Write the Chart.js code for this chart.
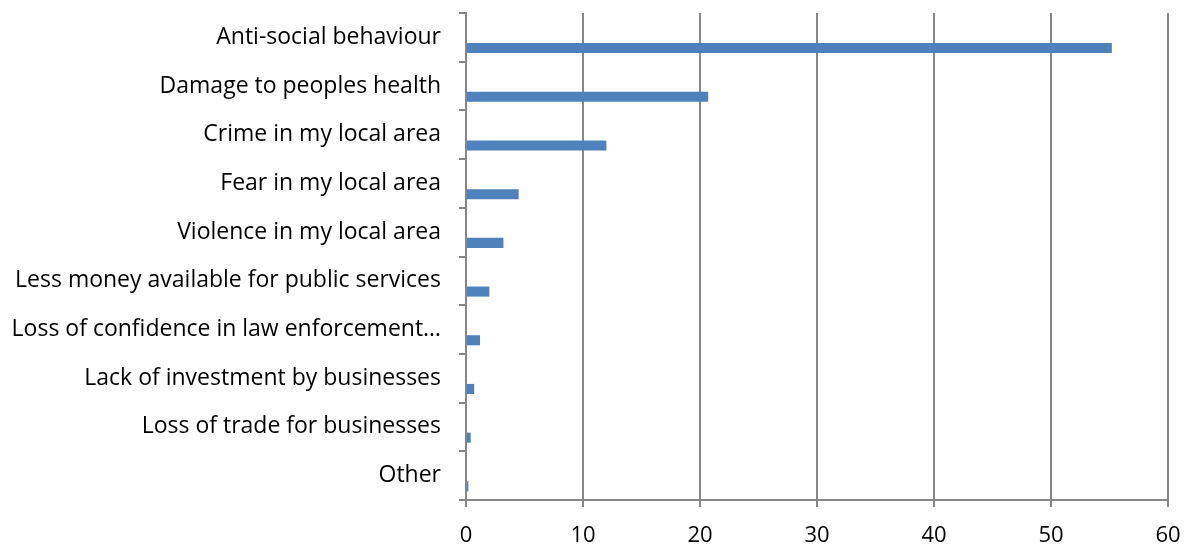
<!DOCTYPE html>
<html>
<head>
<meta charset="utf-8">
<script src="https://cdn.jsdelivr.net/npm/chart.js@4"></script>
<style>
  body { margin: 0; background: #fff; }
  #wrap { width: 1195px; height: 546px; }
</style>
</head>
<body>
<div id="wrap"><canvas id="c"></canvas></div>
<script>
// categories, top to bottom
var categories = [
  'Anti-social behaviour',
  'Damage to peoples health',
  'Crime in my local area',
  'Fear in my local area',
  'Violence in my local area',
  'Less money available for public services',
  'Loss of confidence in law enforcement\u2026',
  'Lack of investment by businesses',
  'Loss of trade for businesses',
  'Other'
];
var values = [55.2, 20.7, 12.0, 4.5, 3.2, 2.0, 1.2, 0.7, 0.4, 0.2];
var blank = categories.map(function(){ return null; });
var xTicks = [0, 10, 20, 30, 40, 50, 60];

var gridGray = '#868686';
var fontFam = "'Open Sans', 'Noto Sans', sans-serif";

var ctx = document.getElementById('c').getContext('2d');
var myChart = new Chart(ctx, {
  type: 'bar',
  data: {
    labels: categories,
    datasets: [
      { data: blank, backgroundColor: '#4F81BD' },
      { data: values, backgroundColor: '#4F81BD' }
    ]
  },
  options: {
    indexAxis: 'y',
    responsive: true,
    maintainAspectRatio: false,
    animation: false,
    layout: { padding: { top: 13, right: 27, left: 0, bottom: 0 } },
    datasets: { bar: { categoryPercentage: 0.88, barPercentage: 0.47 } },
    plugins: { legend: { display: false }, tooltip: { enabled: false } },
    scales: {
      x: {
        min: 0, max: 60,
        afterBuildTicks: function(axis){
          axis.ticks = xTicks.map(function(v){ return { value: v }; });
        },
        afterFit: function(axis){ axis.height = 46; axis.paddingLeft = 0; axis.paddingRight = 0; },
        grid: { color: gridGray, lineWidth: 2, tickLength: 7 },
        border: { color: gridGray, width: 2 },
        ticks: { color: '#000', font: { family: fontFam, size: 22 }, padding: 16 }
      },
      y: {
        afterFit: function(axis){ axis.width = 466; axis.paddingTop = 0; axis.paddingBottom = 0; },
        grid: { offset: true, drawOnChartArea: false, color: gridGray, lineWidth: 2, tickLength: 7 },
        border: { color: gridGray, width: 2 },
        ticks: { color: '#000', font: { family: fontFam, size: 23 }, padding: 18 }
      }
    }
  }
});
</script>
</body>
</html>
